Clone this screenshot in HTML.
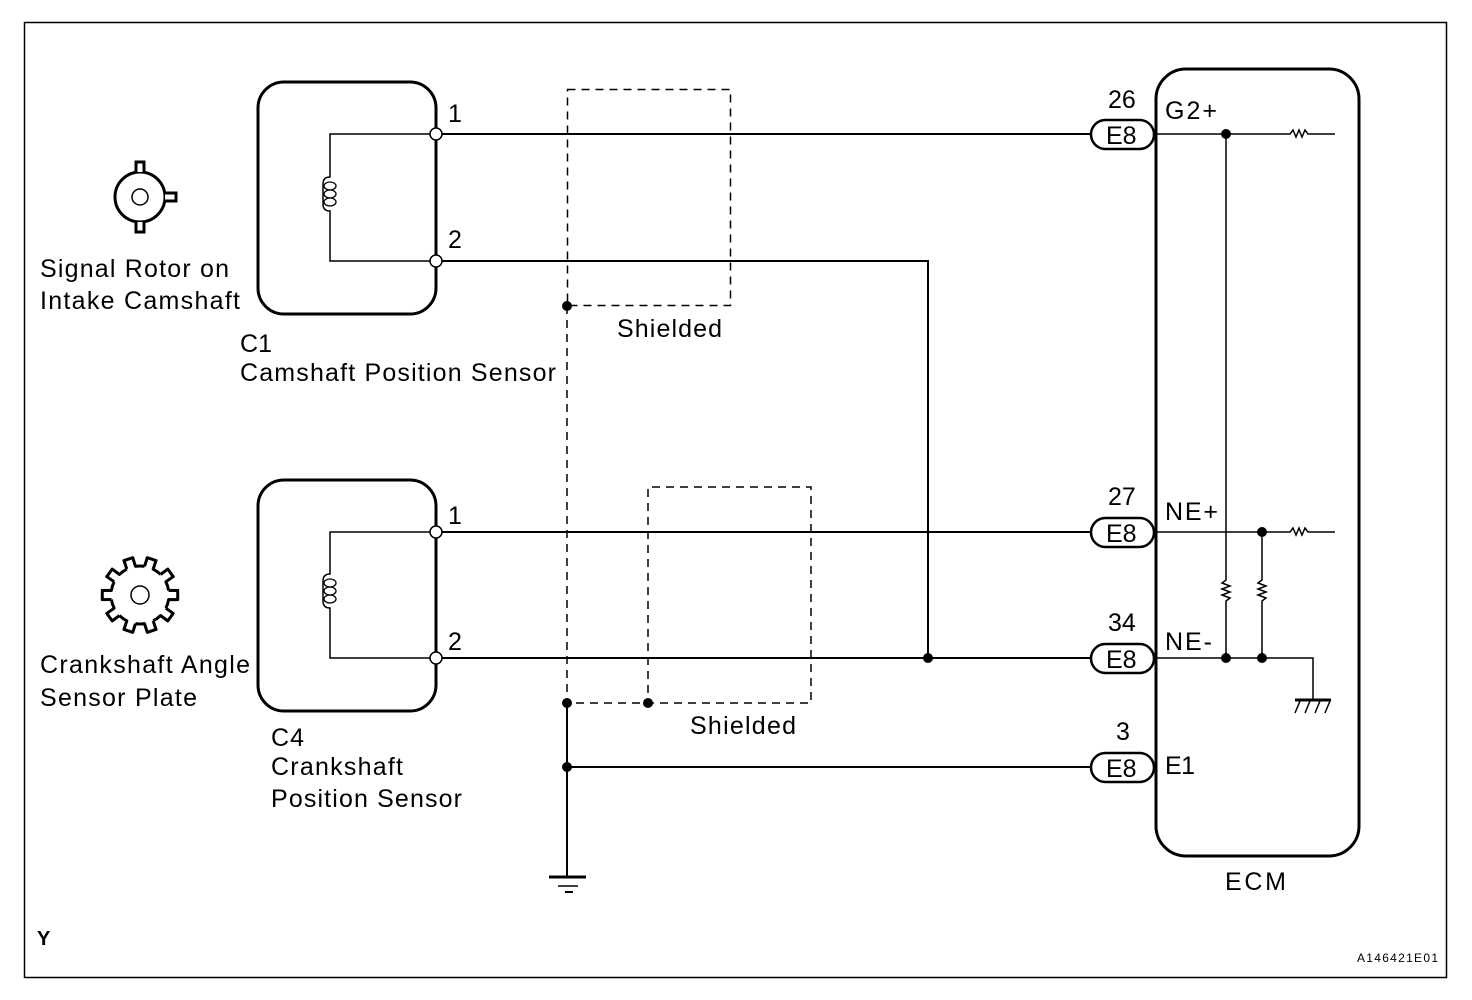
<!DOCTYPE html>
<html><head><style>
html,body{margin:0;padding:0;background:#fff;}
svg{display:block;}
text{font-family:"Liberation Sans",Arial,sans-serif;fill:#000;}
</style></head><body>
<svg width="1472" height="1000" viewBox="0 0 1472 1000" xmlns="http://www.w3.org/2000/svg">
<rect x="24.5" y="22.5" width="1422" height="955" fill="none" stroke="#000" stroke-width="1.5"/>
<g fill="none" stroke="#000">
<rect x="258" y="82" width="178" height="232" rx="26" stroke-width="3"/>
<rect x="258" y="480" width="178" height="231" rx="26" stroke-width="3"/>
<rect x="1156" y="69" width="203" height="787" rx="30" stroke-width="3"/>
<path d="M436 134 H330 V177 Q323 177 323 184 V204 Q323 211 330 211 V261 H436" stroke-width="1.5"/>
<path d="M436 532 H330 V574 Q323 574 323 581 V601 Q323 608 330 608 V658 H436" stroke-width="1.5"/>
<g stroke-width="1.3">
<ellipse cx="330" cy="186" rx="6" ry="4"/><ellipse cx="330" cy="194" rx="6" ry="4"/><ellipse cx="330" cy="202" rx="6" ry="4"/>
<ellipse cx="330" cy="583" rx="6" ry="4"/><ellipse cx="330" cy="591" rx="6" ry="4"/><ellipse cx="330" cy="599" rx="6" ry="4"/>
</g>
<g stroke-width="2">
<path d="M436 134 H1091"/>
<path d="M436 261 H928 V658"/>
<path d="M436 532 H1091"/>
<path d="M436 658 H1091"/>
<path d="M567 703 V877"/>
<path d="M567 767 H1091"/>
</g>
<g stroke-width="1.5" stroke-dasharray="8,6">
<rect x="567.5" y="89.5" width="163" height="216"/>
<path d="M567 306 V703 H811 V487 H648 V703"/>
</g>
<path d="M549 877 H586" stroke-width="3"/>
<path d="M558 886 H578" stroke-width="1.5"/>
<path d="M565 892 H573" stroke-width="2"/>
<g stroke-width="2.5">
<rect x="1091" y="120" width="63" height="29" rx="14.5"/>
<rect x="1091" y="518" width="63" height="29" rx="14.5"/>
<rect x="1091" y="644" width="63" height="29" rx="14.5"/>
<rect x="1091" y="753" width="63" height="29" rx="14.5"/>
</g>
<g stroke-width="1.5">
<path d="M1156 134 H1290 l3 -4 l3 7 l3 -7 l3 7 l3 -7 l3 4 H1335"/>
<path d="M1156 532 H1290 l3 -4 l3 7 l3 -7 l3 7 l3 -7 l3 4 H1335"/>
<path d="M1226 134 V580 l-4 3 l8 3 l-8 3 l8 3 l-8 3 l8 3 l-4 3 V658"/>
<path d="M1262 532 V580 l-4 3 l8 3 l-8 3 l8 3 l-8 3 l8 3 l-4 3 V658"/>
<path d="M1156 658 H1313 V699"/>
<path d="M1295 700 H1331" stroke-width="3"/>
<path d="M1300 701 l-5 12 M1310 701 l-5 12 M1320 701 l-5 12 M1330 701 l-5 12"/>
</g>
<circle cx="140" cy="197" r="25" stroke-width="3"/>
<g stroke-width="1.5"><circle cx="140" cy="197" r="8"/><circle cx="140" cy="595" r="9"/></g>
<path d="M136 172 V162 H144 V172 M136 222 V232 H144 V222 M165 193 H176 V201 H165" stroke-width="3" fill="#fff"/>
<g stroke-width="3" stroke-linejoin="round">
<path transform="translate(140,595) rotate(0)" d="M28.64 -4.54 L37.72 -4.63 L37.72 4.63 L28.64 4.54 A29 29 0 0 1 25.84 13.17"/>
<path transform="translate(140,595) rotate(36)" d="M28.64 -4.54 L37.72 -4.63 L37.72 4.63 L28.64 4.54 A29 29 0 0 1 25.84 13.17"/>
<path transform="translate(140,595) rotate(72)" d="M28.64 -4.54 L37.72 -4.63 L37.72 4.63 L28.64 4.54 A29 29 0 0 1 25.84 13.17"/>
<path transform="translate(140,595) rotate(108)" d="M28.64 -4.54 L37.72 -4.63 L37.72 4.63 L28.64 4.54 A29 29 0 0 1 25.84 13.17"/>
<path transform="translate(140,595) rotate(144)" d="M28.64 -4.54 L37.72 -4.63 L37.72 4.63 L28.64 4.54 A29 29 0 0 1 25.84 13.17"/>
<path transform="translate(140,595) rotate(180)" d="M28.64 -4.54 L37.72 -4.63 L37.72 4.63 L28.64 4.54 A29 29 0 0 1 25.84 13.17"/>
<path transform="translate(140,595) rotate(216)" d="M28.64 -4.54 L37.72 -4.63 L37.72 4.63 L28.64 4.54 A29 29 0 0 1 25.84 13.17"/>
<path transform="translate(140,595) rotate(252)" d="M28.64 -4.54 L37.72 -4.63 L37.72 4.63 L28.64 4.54 A29 29 0 0 1 25.84 13.17"/>
<path transform="translate(140,595) rotate(288)" d="M28.64 -4.54 L37.72 -4.63 L37.72 4.63 L28.64 4.54 A29 29 0 0 1 25.84 13.17"/>
<path transform="translate(140,595) rotate(324)" d="M28.64 -4.54 L37.72 -4.63 L37.72 4.63 L28.64 4.54 A29 29 0 0 1 25.84 13.17"/>
</g>
</g>
<g fill="#fff" stroke="#000" stroke-width="1.5">
<circle cx="436" cy="134" r="6"/><circle cx="436" cy="261" r="6"/>
<circle cx="436" cy="532" r="6"/><circle cx="436" cy="658" r="6"/>
</g>
<g fill="#000">
<circle cx="567" cy="306" r="5"/><circle cx="567" cy="703" r="5"/><circle cx="648" cy="703" r="5"/>
<circle cx="567" cy="767" r="5"/><circle cx="928" cy="658" r="5"/>
<circle cx="1226" cy="134" r="5"/><circle cx="1262" cy="532" r="5"/>
<circle cx="1226" cy="658" r="5"/><circle cx="1262" cy="658" r="5"/>
</g>
<g font-size="25" lengthAdjust="spacingAndGlyphs">
<text x="448" y="122">1</text><text x="448" y="248">2</text>
<text x="448" y="524">1</text><text x="448" y="650">2</text>
<text x="40" y="277" textLength="189">Signal Rotor on</text><text x="40" y="309" textLength="200">Intake Camshaft</text>
<text x="240" y="352" textLength="32">C1</text><text x="240" y="381" textLength="316">Camshaft Position Sensor</text>
<text x="617" y="337" textLength="105">Shielded</text><text x="690" y="734" textLength="106">Shielded</text>
<text x="40" y="673" textLength="210">Crankshaft Angle</text><text x="40" y="706" textLength="157">Sensor Plate</text>
<text x="271" y="746" textLength="33">C4</text><text x="271" y="775" textLength="132">Crankshaft</text><text x="271" y="807" textLength="191">Position Sensor</text>
<text x="1108" y="108">26</text><text x="1108" y="505">27</text><text x="1108" y="631">34</text><text x="1116" y="740">3</text>
<text x="1106" y="144">E8</text><text x="1106" y="542">E8</text><text x="1106" y="668">E8</text><text x="1106" y="777">E8</text>
<text x="1165" y="119" textLength="52">G2+</text><text x="1165" y="520" textLength="53">NE+</text><text x="1165" y="650" textLength="47">NE-</text><text x="1165" y="774" textLength="30">E1</text>
<text x="1225" y="890" textLength="61">ECM</text>
</g>
<text x="37" y="945" font-size="20" font-weight="bold">Y</text>
<text x="1357" y="962" font-size="12" textLength="81">A146421E01</text>
</svg>
</body></html>
